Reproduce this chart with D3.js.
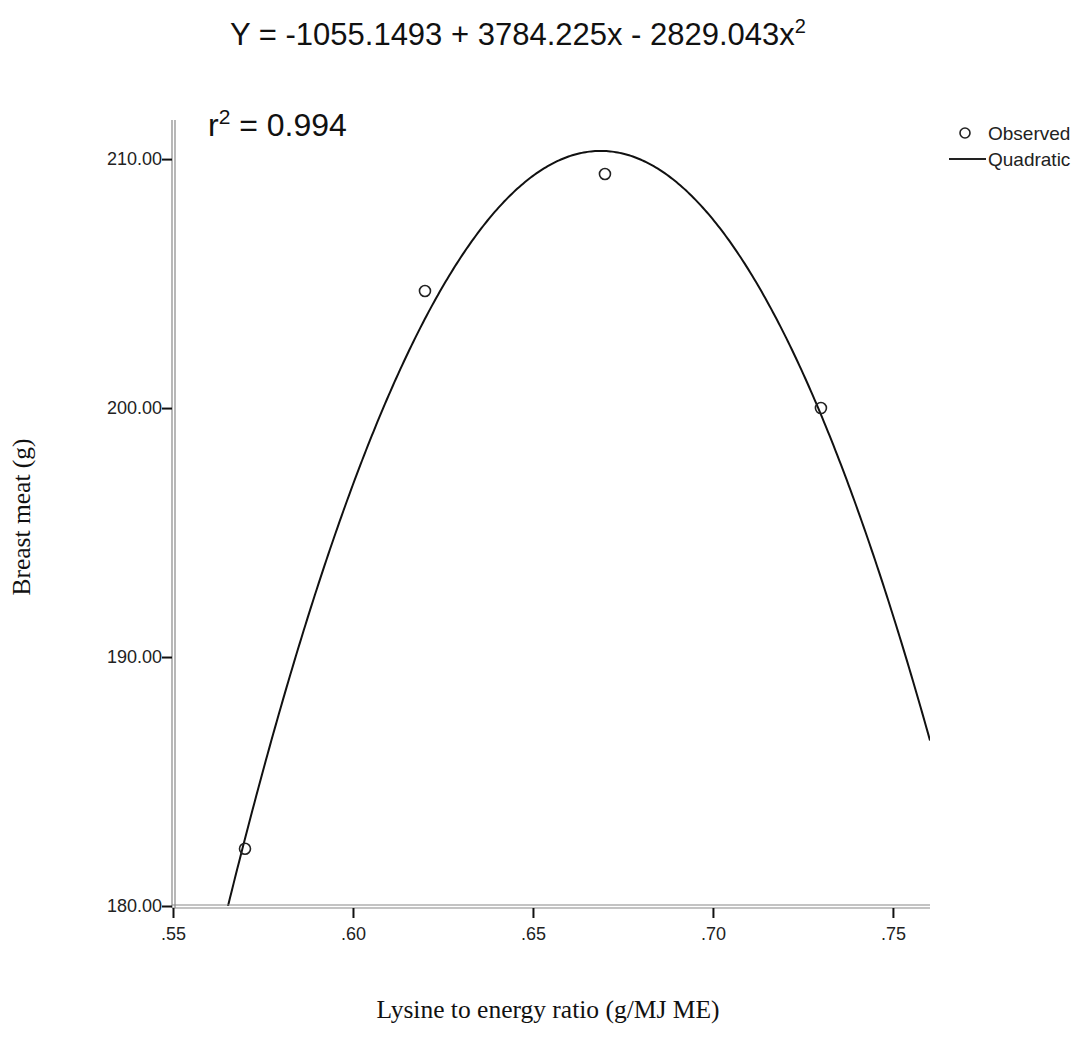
<!DOCTYPE html>
<html>
<head>
<meta charset="utf-8">
<script src="https://cdn.jsdelivr.net/npm/d3@7"></script>
<style>
  body { margin: 0; background: #fff; }
  svg { display: block; }
  .tick text { font-family: "Liberation Sans", Arial, sans-serif; font-size: 18px; fill: #222; }
</style>
</head>
<body>
<div id="chart"></div>
<script>
// observed points
const lysRatio = [0.57, 0.62, 0.67, 0.73];
const breastMeat = [182.3, 204.7, 209.4, 200.0];

// quadratic fit coefficients (b0, b1, b2) as printed on the chart
const fitCoef = [-1055.1493, 3784.225, -2829.043];
const rSquared = "0.994";

const xTicks = [0.55, 0.60, 0.65, 0.70, 0.75];
const yTicks = [180, 190, 200, 210];

const width = 1081, height = 1057;
const plotL = 173, plotR = 930, plotT = 120, plotB = 906;

const svg = d3.select("#chart").append("svg")
  .attr("width", width)
  .attr("height", height);

const xScale = d3.scaleLinear().domain([0.55, 0.7603]).range([plotL, plotR]);
const yScale = d3.scaleLinear().domain([180, 211.57]).range([plotB, plotT]);

svg.append("clipPath").attr("id", "plot")
  .append("rect")
  .attr("x", plotL).attr("y", plotT)
  .attr("width", plotR - plotL).attr("height", plotB - plotT);

// fitted curve, sampled across the x domain
const fit = x => fitCoef[0] + fitCoef[1] * x + fitCoef[2] * x * x;
const xs = d3.range(0, 401).map(i => 0.55 + (0.7603 - 0.55) * i / 400);

const line = d3.line()
  .x(d => xScale(d))
  .y(d => yScale(fit(d)));

svg.append("path")
  .datum(xs)
  .attr("clip-path", "url(#plot)")
  .attr("d", line)
  .attr("fill", "none")
  .attr("stroke", "#111")
  .attr("stroke-width", 2);

// double axis lines
[0, 3].forEach(off => {
  svg.append("line")
    .attr("x1", plotL - 1 + off).attr("x2", plotL - 1 + off)
    .attr("y1", plotT).attr("y2", plotB + 2)
    .attr("stroke", "#888").attr("stroke-width", 1.2);
  svg.append("line")
    .attr("x1", plotL - 1).attr("x2", plotR)
    .attr("y1", plotB - 1 + off).attr("y2", plotB - 1 + off)
    .attr("stroke", "#888").attr("stroke-width", 1.2);
});

const xAxis = d3.axisBottom(xScale)
  .tickValues(xTicks)
  .tickSize(10)
  .tickPadding(9)
  .tickFormat(d => d3.format(".2f")(d).replace(/^0/, ""));

svg.append("g")
  .attr("transform", `translate(0,${plotB + 2})`)
  .call(xAxis)
  .call(g => g.select(".domain").remove())
  .call(g => g.selectAll(".tick line").attr("stroke", "#111").attr("stroke-width", 2));

const yAxis = d3.axisLeft(yScale)
  .tickValues(yTicks)
  .tickSize(10)
  .tickPadding(0)
  .tickFormat(d3.format(".2f"));

svg.append("g")
  .attr("transform", `translate(${plotL - 1},0)`)
  .call(yAxis)
  .call(g => g.select(".domain").remove())
  .call(g => g.selectAll(".tick line").attr("stroke", "#111").attr("stroke-width", 2));

// observed points
svg.selectAll("circle.obs")
  .data(lysRatio)
  .enter()
  .append("circle")
  .attr("class", "obs")
  .attr("cx", d => xScale(d))
  .attr("cy", (d, i) => yScale(breastMeat[i]))
  .attr("r", 5.5)
  .attr("fill", "none")
  .attr("stroke", "#222")
  .attr("stroke-width", 1.6);

// equation
const eq = svg.append("text")
  .attr("x", 518).attr("y", 45)
  .attr("text-anchor", "middle")
  .style("font-family", "'Liberation Sans', Arial, sans-serif")
  .style("font-size", "31px")
  .attr("fill", "#111");
eq.append("tspan").text(`Y = ${fitCoef[0]} + ${fitCoef[1]}x - ${-fitCoef[2]}x`);
eq.append("tspan").attr("dy", -12).style("font-size", "20px").text("2");

const r2 = svg.append("text")
  .attr("x", 208).attr("y", 136)
  .style("font-family", "'Liberation Sans', Arial, sans-serif")
  .style("font-size", "32px")
  .attr("fill", "#111");
r2.append("tspan").text("r");
r2.append("tspan").attr("dy", -12).style("font-size", "21px").text("2");
r2.append("tspan").attr("dy", 12).text(` = ${rSquared}`);

// legend
const lg = svg.append("g").attr("transform", "translate(965,133)");
lg.append("circle").attr("cx", 0).attr("cy", 0).attr("r", 5)
  .attr("fill", "none").attr("stroke", "#222").attr("stroke-width", 1.6);
lg.append("line").attr("x1", -16).attr("x2", 21).attr("y1", 26).attr("y2", 26)
  .attr("stroke", "#222").attr("stroke-width", 2);
lg.append("text").attr("x", 23).attr("y", 7).text("Observed")
  .style("font-family", "'Liberation Sans', Arial, sans-serif").style("font-size", "19px").attr("fill", "#222");
lg.append("text").attr("x", 23).attr("y", 33).text("Quadratic")
  .style("font-family", "'Liberation Sans', Arial, sans-serif").style("font-size", "19px").attr("fill", "#222");

// axis titles
svg.append("text")
  .attr("x", 548).attr("y", 1018)
  .attr("text-anchor", "middle")
  .style("font-family", "'Liberation Serif', 'Times New Roman', serif")
  .style("font-size", "25.5px")
  .attr("fill", "#111")
  .text("Lysine to energy ratio (g/MJ ME)");

svg.append("text")
  .attr("transform", "translate(30,517) rotate(-90)")
  .attr("text-anchor", "middle")
  .style("font-family", "'Liberation Serif', 'Times New Roman', serif")
  .style("font-size", "25.5px")
  .attr("fill", "#111")
  .text("Breast meat (g)");
</script>
</body>
</html>
